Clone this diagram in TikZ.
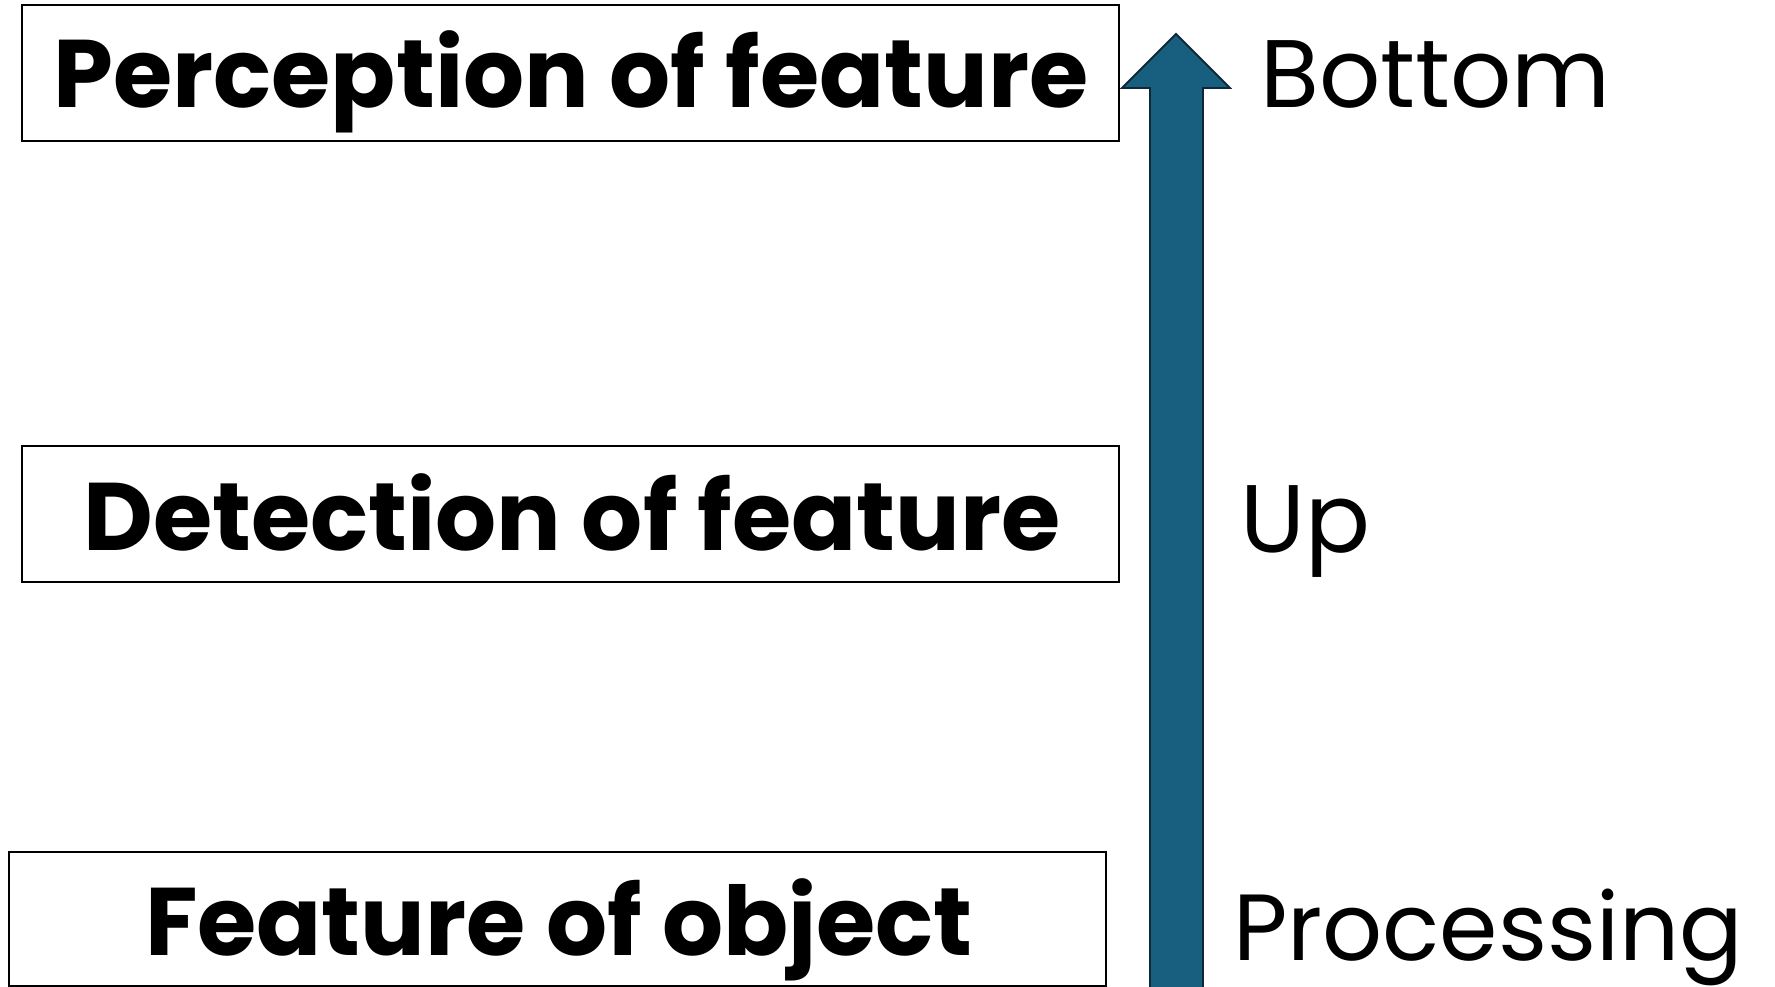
\documentclass[tikz,border=0pt]{standalone}
\usepackage{fontspec}
\setmainfont{Poppins}
\definecolor{arrowfill}{RGB}{23,94,127}
\definecolor{arrowline}{RGB}{14,40,56}
\tikzset{
  levelbox/.style={draw=black, line width=1.4pt, fill=white, minimum width=1097pt, inner sep=0pt},
  leveltext/.style={anchor=base, inner sep=0pt, font=\fontsize{96}{110}\selectfont\bfseries},
  sidelabel/.style={anchor=base west, inner sep=0pt, font=\fontsize{96}{110}\selectfont},
}
\begin{document}
\begin{tikzpicture}[x=1pt,y=-1pt]
\useasboundingbox (0,0) rectangle (1775,987);
\fill[white] (0,0) rectangle (1775,987);
\node[levelbox, minimum height=136pt] (perc) at (570.5,73) {};
\node[levelbox, minimum height=136pt] (det) at (570.5,514) {};
\node[levelbox, minimum height=134pt] (feat) at (557.5,919) {};
\node[leveltext] (perct) at (571,108) {Perception of feature};
\node[leveltext] (dett) at (572,550) {Detection of feature};
\node[leveltext] (featt) at (559,955) {Feature of object};
\coordinate (tip) at (1176,34);
\filldraw[fill=arrowfill, draw=arrowline, line width=1.8pt, line join=miter]
  (1150,995) -- (1150,88) -- (1122,88) -- (tip) -- (1230,88) -- (1203,88) -- (1203,995) -- cycle;
\node[sidelabel] (bot) at (1260,107.5) {Bottom};
\node[sidelabel] (up) at (1240,552) {Up};
\node[sidelabel, font=\fontsize{94}{110}\selectfont] (proc) at (1233,960) {Processing};
\end{tikzpicture}
\end{document}
